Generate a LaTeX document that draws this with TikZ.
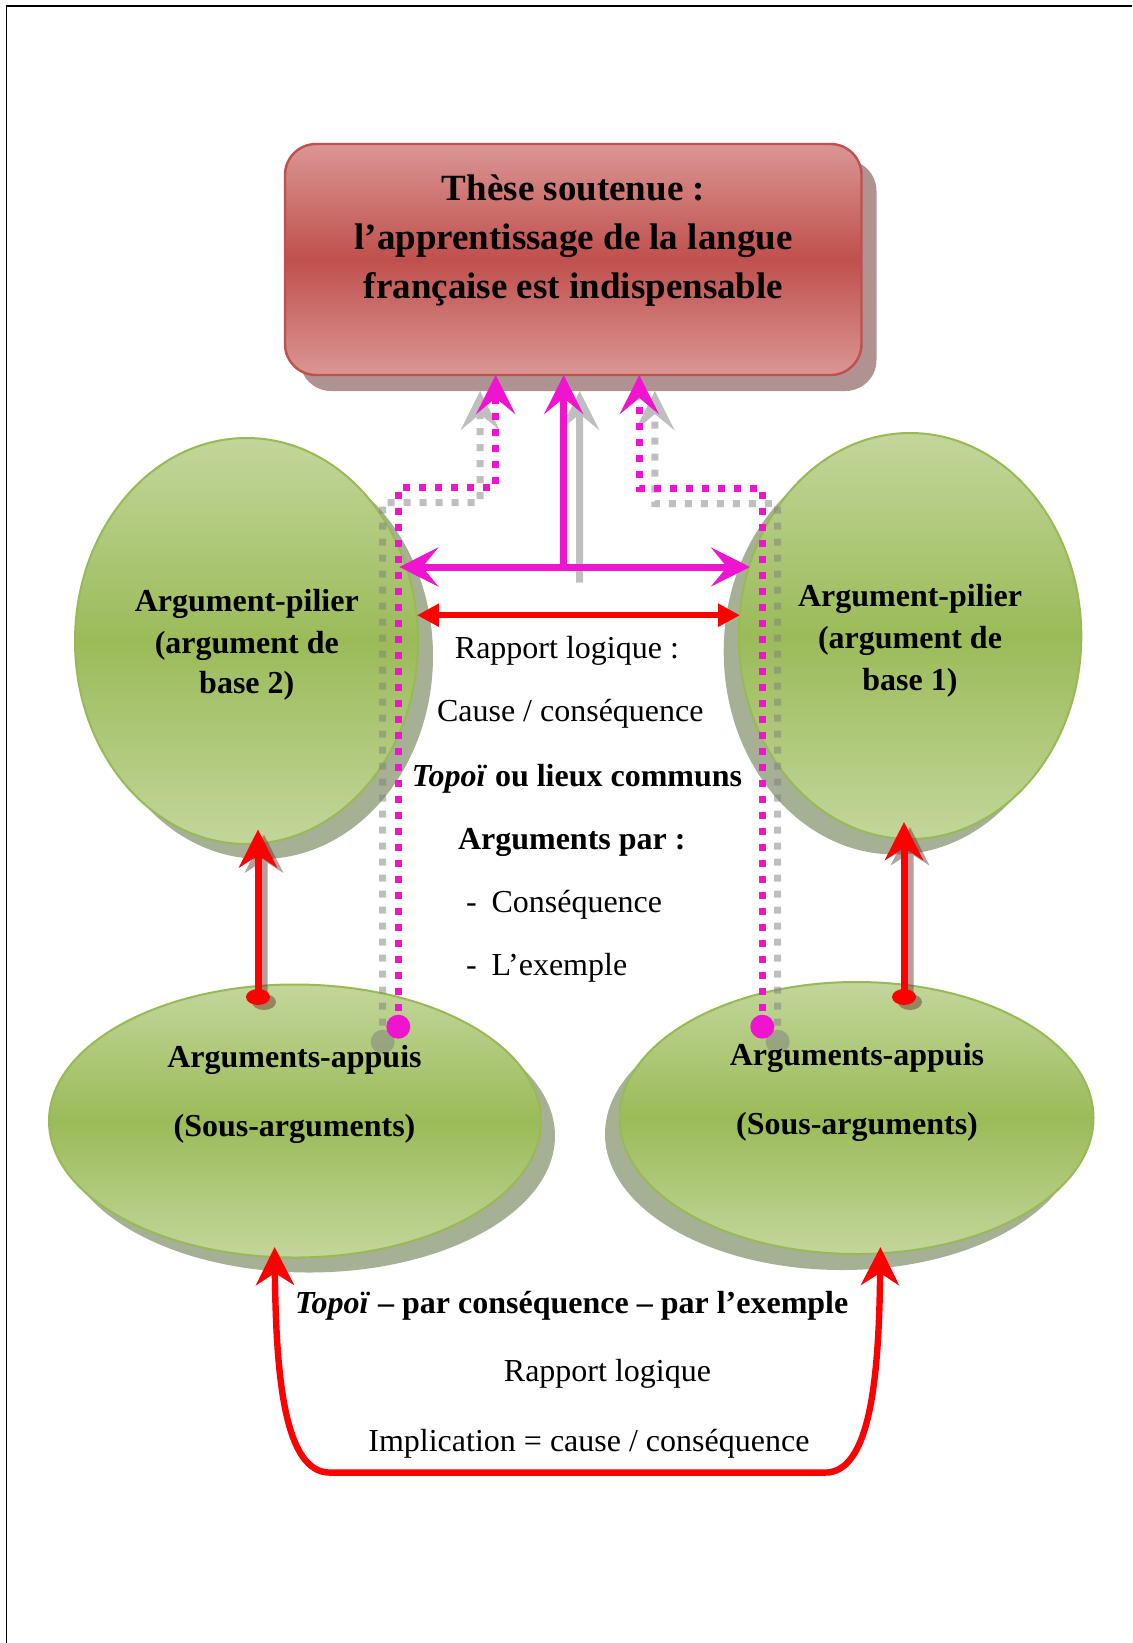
\documentclass[tikz,border=0pt]{standalone}
\usepackage{fontspec}
\setmainfont{Liberation Serif}
\usetikzlibrary{arrows.meta,shapes.geometric}

\definecolor{magen}{RGB}{240,20,208}
\definecolor{redc}{RGB}{255,0,0}
\definecolor{boxdark}{RGB}{192,80,77}
\definecolor{boxlight}{RGB}{218,150,148}
\definecolor{boxedge}{RGB}{192,80,77}
\definecolor{boxshadow}{RGB}{176,146,146}
\definecolor{greendark}{RGB}{155,187,89}
\definecolor{greenlight}{RGB}{195,214,155}
\definecolor{greenedge}{RGB}{152,186,84}
\definecolor{greenshadow}{RGB}{166,176,149}
\definecolor{shadegrey}{RGB}{128,128,128}
\definecolor{shadered}{RGB}{100,40,40}

\begin{document}
\begin{tikzpicture}[x=0.5pt,y=-0.5pt,
  every node/.style={inner sep=0pt, outer sep=0pt},
  plain/.style={anchor=base, font=\fontsize{16}{19}\selectfont},
  plainw/.style={anchor=base west, font=\fontsize{16}{19}\selectfont},
  boldt/.style={anchor=base, font=\fontsize{16}{19}\selectfont\bfseries},
  boldw/.style={anchor=base west, font=\fontsize{16}{19}\selectfont\bfseries},
  titlet/.style={anchor=base, font=\fontsize{18.5}{24}\selectfont\bfseries},
  thesisbox/.style={rectangle, rounded corners=15.5pt, minimum width=288.25pt, minimum height=115.5pt},
  boxfill/.style={thesisbox, draw=boxedge, line width=1.2pt, top color=boxlight, bottom color=boxlight, middle color=boxdark},
  boxshade/.style={thesisbox, fill=boxshadow},
  greenell/.style={ellipse, draw=greenedge, line width=1pt, top color=greenlight, bottom color=greenlight, middle color=greendark},
  ellshade/.style={ellipse, fill=greenshadow},
  magtip/.tip={Stealth[length=19.5pt,width=19.5pt,inset=8pt]},
  redtip/.tip={Stealth[length=19pt,width=19pt,inset=6pt]},
  redtri/.tip={Triangle[length=11pt,width=11pt]},
  magline/.style={draw=magen, line width=3.5pt},
  magdot/.style={draw=magen, line width=3.5pt, dash pattern=on 3.5pt off 4.5pt},
  greyline/.style={draw=shadegrey, line width=3.5pt},
  greydot/.style={draw=shadegrey, line width=3.5pt, dash pattern=on 3.5pt off 4.5pt},
  redv/.style={draw=redc, line width=3.5pt},
]
\useasboundingbox (0,0) rectangle (1132,1643);

% page frame
\draw[line width=0.8pt] (6.5,1643) -- (6.5,6) -- (1132,6);

% drop shadows
\node[boxshade] (thesisShadow) at (588.25,275.5) {};
\node[ellshade, minimum width=171.5pt, minimum height=203pt] (pil2Shadow) at (261.5,656) {};
\node[ellshade, minimum width=171.3pt, minimum height=203pt] (pil1Shadow) at (895,651.5) {};
\node[ellshade, minimum width=246pt, minimum height=136.5pt] (app2Shadow) at (309,1136) {};
\node[ellshade, minimum width=237pt, minimum height=136pt] (app1Shadow) at (842,1134) {};

% thesis box
\node[boxfill] (thesis) at (573.25,259.5) {};
\node[titlet] (title1) at (573.5,200) {Thèse soutenue :};
\node[titlet] (title2) at (573.5,249) {l’apprentissage de la langue};
\node[titlet] (title3) at (573.5,298.5) {française est indispensable};

% argument ellipses
\node[greenell, minimum width=171.5pt, minimum height=203pt] (pil2) at (246.5,641) {};
\node[greenell, minimum width=171.3pt, minimum height=203pt] (pil1) at (910,636) {};
\node[greenell, minimum width=246pt, minimum height=136.5pt] (app2) at (295,1121) {};
\node[greenell, minimum width=237pt, minimum height=136pt] (app1) at (856.5,1118) {};

% connector end points
\coordinate (hub) at (563.7,567);
\coordinate (hubL) at (399.3,567);
\coordinate (hubR) at (750,567);
\coordinate (pdL) at (398.3,1026.7);
\coordinate (pdR) at (762.3,1026.7);
\coordinate (rL) at (417,615.2);
\coordinate (rR) at (740,615.2);
\coordinate (dvL) at (258,997);
\coordinate (tvL) at (258,829.5);
\coordinate (dvR) at (904,997);
\coordinate (tvR) at (904,822);
\coordinate (cL) at (274.6,1247);
\coordinate (cR) at (880.4,1247);

% grey shadows of the magenta links
\begin{scope}[transparency group, opacity=0.5]
  \draw[greydot, -magtip] (382.7,1041.7) -- (382.7,502.5) -- (480.1,502.5) -- (480.1,391);
  \fill[shadegrey] (382.7,1041.7) circle[radius=6pt];
  \draw[greydot, -magtip] (777.7,1041.7) -- (777.7,503.5) -- (654.9,503.5) -- (654.9,391);
  \fill[shadegrey] (777.7,1041.7) circle[radius=6pt];
  \draw[greyline, -magtip] (579.7,582.7) -- (579.7,391);
\end{scope}

% magenta links towards the thesis
\draw[magline, -magtip] (hub) -- (hub |- thesis.south);
\draw[magline, magtip-magtip] (hubL) -- (hubR);
\draw[magdot, -magtip] (pdL) -- (398.3,487) -- (495.7,487) -- (495.7,0 |- thesis.south);
\fill[magen] (pdL) circle[radius=6pt];
\draw[magdot, -magtip] (pdR) -- (762.3,488) -- (639.3,488) -- (639.3,0 |- thesis.south);
\fill[magen] (pdR) circle[radius=6pt];

% red link between the two pillars
\draw[redc, line width=3.2pt, redtri-redtri] (rL) -- (rR);

% red links from sub-arguments to pillars, with shadows
\begin{scope}[transparency group, opacity=0.45]
  \draw[line width=3.5pt, draw=shadered, -redtip] (264,1002) -- (264,834.5);
  \fill[shadered] (264,1002) ellipse[x radius=6pt, y radius=4pt];
  \draw[line width=3.5pt, draw=shadered, -redtip] (910,1002) -- (910,827);
  \fill[shadered] (910,1002) ellipse[x radius=6pt, y radius=4pt];
\end{scope}
\draw[redv, -redtip] (dvL) -- (tvL);
\fill[redc] (dvL) ellipse[x radius=6pt, y radius=4pt];
\draw[redv, -redtip] (dvR) -- (tvR);
\fill[redc] (dvR) ellipse[x radius=6pt, y radius=4pt];

% red loop between the two groups of sub-arguments
\draw[redc, line width=3.2pt, redtip-redtip] (cL) .. controls (276,1380) and (285,1472.6) .. (330,1472.6)
  -- (825,1472.6) .. controls (870,1472.6) and (879,1380) .. (cR);

% ellipse labels
\node[boldt] (p2a) at (246.8,611.7) {Argument-pilier};
\node[boldt] (p2b) at (246.8,653.3) {(argument de};
\node[boldt] (p2c) at (246.8,693.8) {base 2)};
\node[boldt] (p1a) at (910,606.5) {Argument-pilier};
\node[boldt] (p1b) at (910,648.5) {(argument de};
\node[boldt] (p1c) at (910,690) {base 1)};
\node[boldt] (a2a) at (294.5,1067.5) {Arguments-appuis};
\node[boldt] (a2b) at (294.5,1136) {(Sous-arguments)};
\node[boldt] (a1a) at (857,1065.5) {Arguments-appuis};
\node[boldt] (a1b) at (857,1134) {(Sous-arguments)};

% central relation text
\node[plainw] (m1) at (454.9,658.4) {Rapport logique :};
\node[plainw] (m2) at (437,721.3) {Cause / conséquence};
\node[boldw] (m3) at (411.9,786.3) {\textit{Topoï} ou lieux communs};
\node[boldw] (m4) at (458,849.2) {Arguments par :};
\node[plainw] (m5d) at (466,912.1) {-};
\node[plainw] (m5) at (491.5,912.1) {Conséquence};
\node[plainw] (m6d) at (466,975) {-};
\node[plainw] (m6) at (491.5,975) {L’exemple};

% lower relation text
\node[boldw] (b1) at (295,1313.3) {\textit{Topoï} – par conséquence – par l’exemple};
\node[plainw] (b2) at (503.9,1381.7) {Rapport logique};
\node[plainw] (b3) at (368.4,1451.7) {Implication = cause / conséquence};
\end{tikzpicture}
\end{document}
